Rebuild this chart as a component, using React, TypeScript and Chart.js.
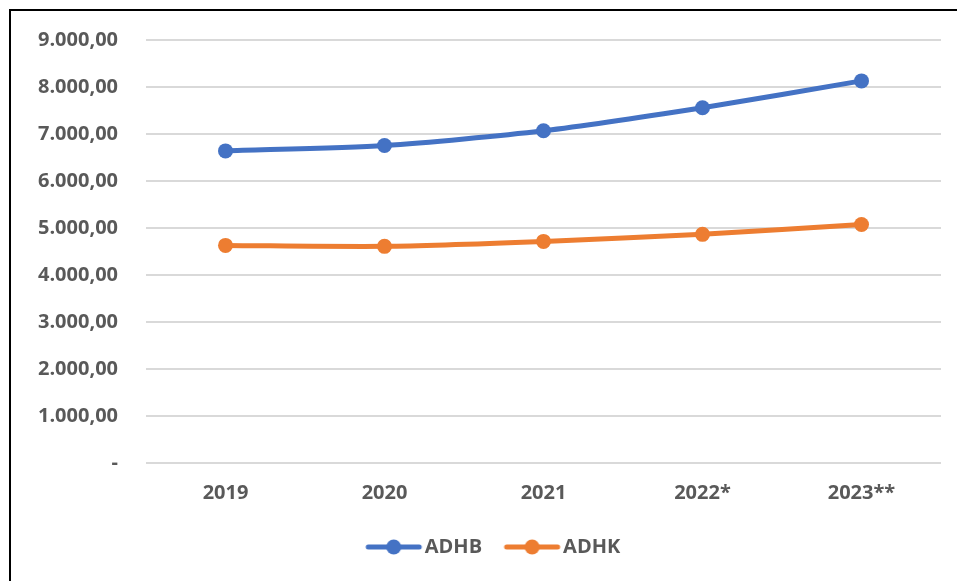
import React, { useEffect, useRef } from "react";
import { Chart, registerables } from "chart.js";

Chart.register(...registerables);

const categories = ["2019", "2020", "2021", "2022*", "2023**"];
const adhb = [6640, 6755, 7070, 7560, 8130];
const adhk = [4630, 4610, 4715, 4865, 5075];
const seriesNames = ["ADHB", "ADHK"];
const seriesColors = ["#4472C4", "#ED7D31"];
const yTicks = { min: 0, max: 9000, step: 1000 };

const FONT = "'Open Sans'";
const TEXT = "#595959";
const LEGEND_SHIFT = 6;

function fmt(v: number): string {
  if (v === 0) return "-";
  const s = Math.round(v).toString().replace(/\B(?=(\d{3})+(?!\d))/g, ".");
  return s + ",00";
}

// legend icon: line with a dot, drawn off-centre inside the image
function legendIcon(color: string): HTMLCanvasElement {
  const c = document.createElement("canvas");
  c.width = 100;
  c.height = 20;
  const ctx = c.getContext("2d")!;
  ctx.strokeStyle = color;
  ctx.lineWidth = 5;
  ctx.lineCap = "round";
  ctx.beginPath();
  ctx.moveTo(28, 10);
  ctx.lineTo(79, 10);
  ctx.stroke();
  ctx.fillStyle = color;
  ctx.beginPath();
  ctx.arc(53.5, 10, 7.5, 0, Math.PI * 2);
  ctx.fill();
  return c;
}

const legendShift = {
  id: "legendShift",
  afterLayout(chart: any) {
    const l = chart.legend;
    if (l) {
      l.left += LEGEND_SHIFT;
      l.right += LEGEND_SHIFT;
    }
  },
};

export default function App() {
  const ref = useRef<HTMLCanvasElement>(null);
  useEffect(() => {
    const icons = seriesColors.map(legendIcon);
    const chart = new Chart(ref.current!, {
      type: "line",
      data: {
        labels: categories,
        datasets: [adhb, adhk].map((d, i) => ({
          label: seriesNames[i],
          data: d,
          borderColor: seriesColors[i],
          backgroundColor: seriesColors[i],
          borderWidth: 5,
          pointRadius: 7.5,
          pointHoverRadius: 7.5,
          pointBorderWidth: 0,
          tension: 0.25,
          fill: false,
        })),
      },
      plugins: [legendShift],
      options: {
        responsive: false,
        animation: false,
        layout: { padding: { top: 29, right: 16, bottom: 14, left: 33 } },
        plugins: {
          tooltip: { enabled: false },
          legend: {
            position: "bottom",
            labels: {
              usePointStyle: true,
              pointStyleWidth: 49,
              padding: 22,
              color: TEXT,
              font: { family: FONT, size: 20, weight: "bold" },
              generateLabels: (ch: any) => {
                const items = Chart.defaults.plugins.legend.labels.generateLabels(ch);
                items.forEach((it: any, i: number) => {
                  it.pointStyle = icons[i];
                });
                return items;
              },
            },
          },
        },
        scales: {
          x: {
            offset: true,
            grid: { display: false },
            border: { display: false },
            ticks: {
              color: TEXT,
              padding: 10,
              font: { family: FONT, size: 20, weight: "bold" },
            },
          },
          y: {
            min: yTicks.min,
            max: yTicks.max,
            afterFit: (s: any) => {
              s.width = 113;
            },
            grid: { color: "#D9D9D9", lineWidth: 2, drawTicks: false },
            border: { display: false },
            ticks: {
              stepSize: yTicks.step,
              padding: 28,
              color: TEXT,
              font: { family: FONT, size: 20, weight: "bold" },
              callback: (v: any) => fmt(Number(v)),
            },
          },
        },
      },
    } as any);
    return () => chart.destroy();
  }, []);
  return (
    <div
      style={{
        position: "absolute",
        left: 0,
        top: 0,
        width: 957,
        height: 581,
        overflow: "hidden",
        background: "#fff",
      }}
    >
      <canvas ref={ref} width={957} height={581} style={{ width: 957, height: 581, display: "block" }} />
      <div
        style={{
          position: "absolute",
          left: 9,
          top: 9,
          width: 1000,
          height: 700,
          borderTop: "2px solid #000",
          borderLeft: "2px solid #000",
          pointerEvents: "none",
        }}
      />
    </div>
  );
}
